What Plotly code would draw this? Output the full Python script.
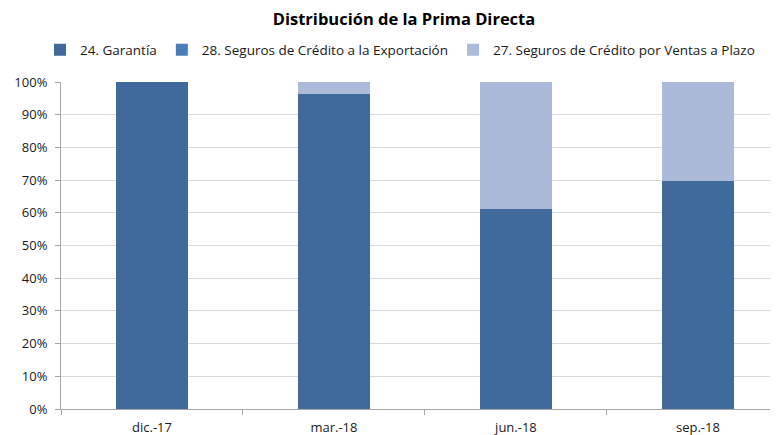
import plotly.graph_objects as go

categories = ["dic.-17", "mar.-18", "jun.-18", "sep.-18"]
garantia = [100.0, 96.3, 61.2, 69.7]
exportacion = [0.0, 0.0, 0.0, 0.0]
ventas_plazo = [0.0, 3.7, 38.8, 30.3]
y_ticks = [0, 10, 20, 30, 40, 50, 60, 70, 80, 90, 100]
y_tick_labels = [f"{v}%" for v in y_ticks]

font_family = "Open Sans, sans-serif"
W, H = 770, 427  # page has an 8px body margin

fig = go.Figure()
fig.add_trace(go.Bar(name="24. Garantía", x=categories, y=garantia,
                     marker=dict(color="#3F6A9B", line=dict(width=0))))
fig.add_trace(go.Bar(name="28. Seguros de Crédito a la Exportación", x=categories, y=exportacion,
                     marker=dict(color="#4A7EBB", line=dict(width=0))))
fig.add_trace(go.Bar(name="27. Seguros de Crédito por Ventas a Plazo", x=categories, y=ventas_plazo,
                     marker=dict(color="#AABAD8", line=dict(width=0))))

fig.update_layout(
    barmode="stack",
    bargap=0.6,
    width=W, height=H,
    margin=dict(l=53, r=0, t=74, b=26),
    paper_bgcolor="white", plot_bgcolor="white",
    font=dict(family=font_family, size=13, color="#1a1a1a"),
    title=dict(text="<b>Distribución de la Prima Directa</b>", x=396 / W, xanchor="center",
               xref="container", y=1 - 11 / H, yanchor="middle",
               font=dict(size=16.5, family=font_family, color="#000000")),
    legend=dict(orientation="h", xref="container", x=32 / W, xanchor="left",
                yref="container", y=1 - 42 / H, yanchor="middle",
                font=dict(size=13.5), traceorder="normal"),
    showlegend=True,
)
fig.update_xaxes(type="category", range=[-0.5, 3.44], showline=True, linecolor="#A6A6A6",
                 ticks="outside", tickson="boundaries", ticklen=5, tickcolor="#A6A6A6",
                 showgrid=False, tickfont=dict(size=13), ticklabelstandoff=6)
fig.update_yaxes(range=[0, 100], tickvals=y_ticks, ticktext=y_tick_labels, showline=True,
                 linecolor="#A6A6A6", ticks="outside", ticklen=5, tickcolor="#A6A6A6",
                 showgrid=True, gridcolor="#D9D9D9", gridwidth=1, zeroline=False,
                 ticklabelstandoff=5, tickfont=dict(size=13))

fig.write_html("out.html")
